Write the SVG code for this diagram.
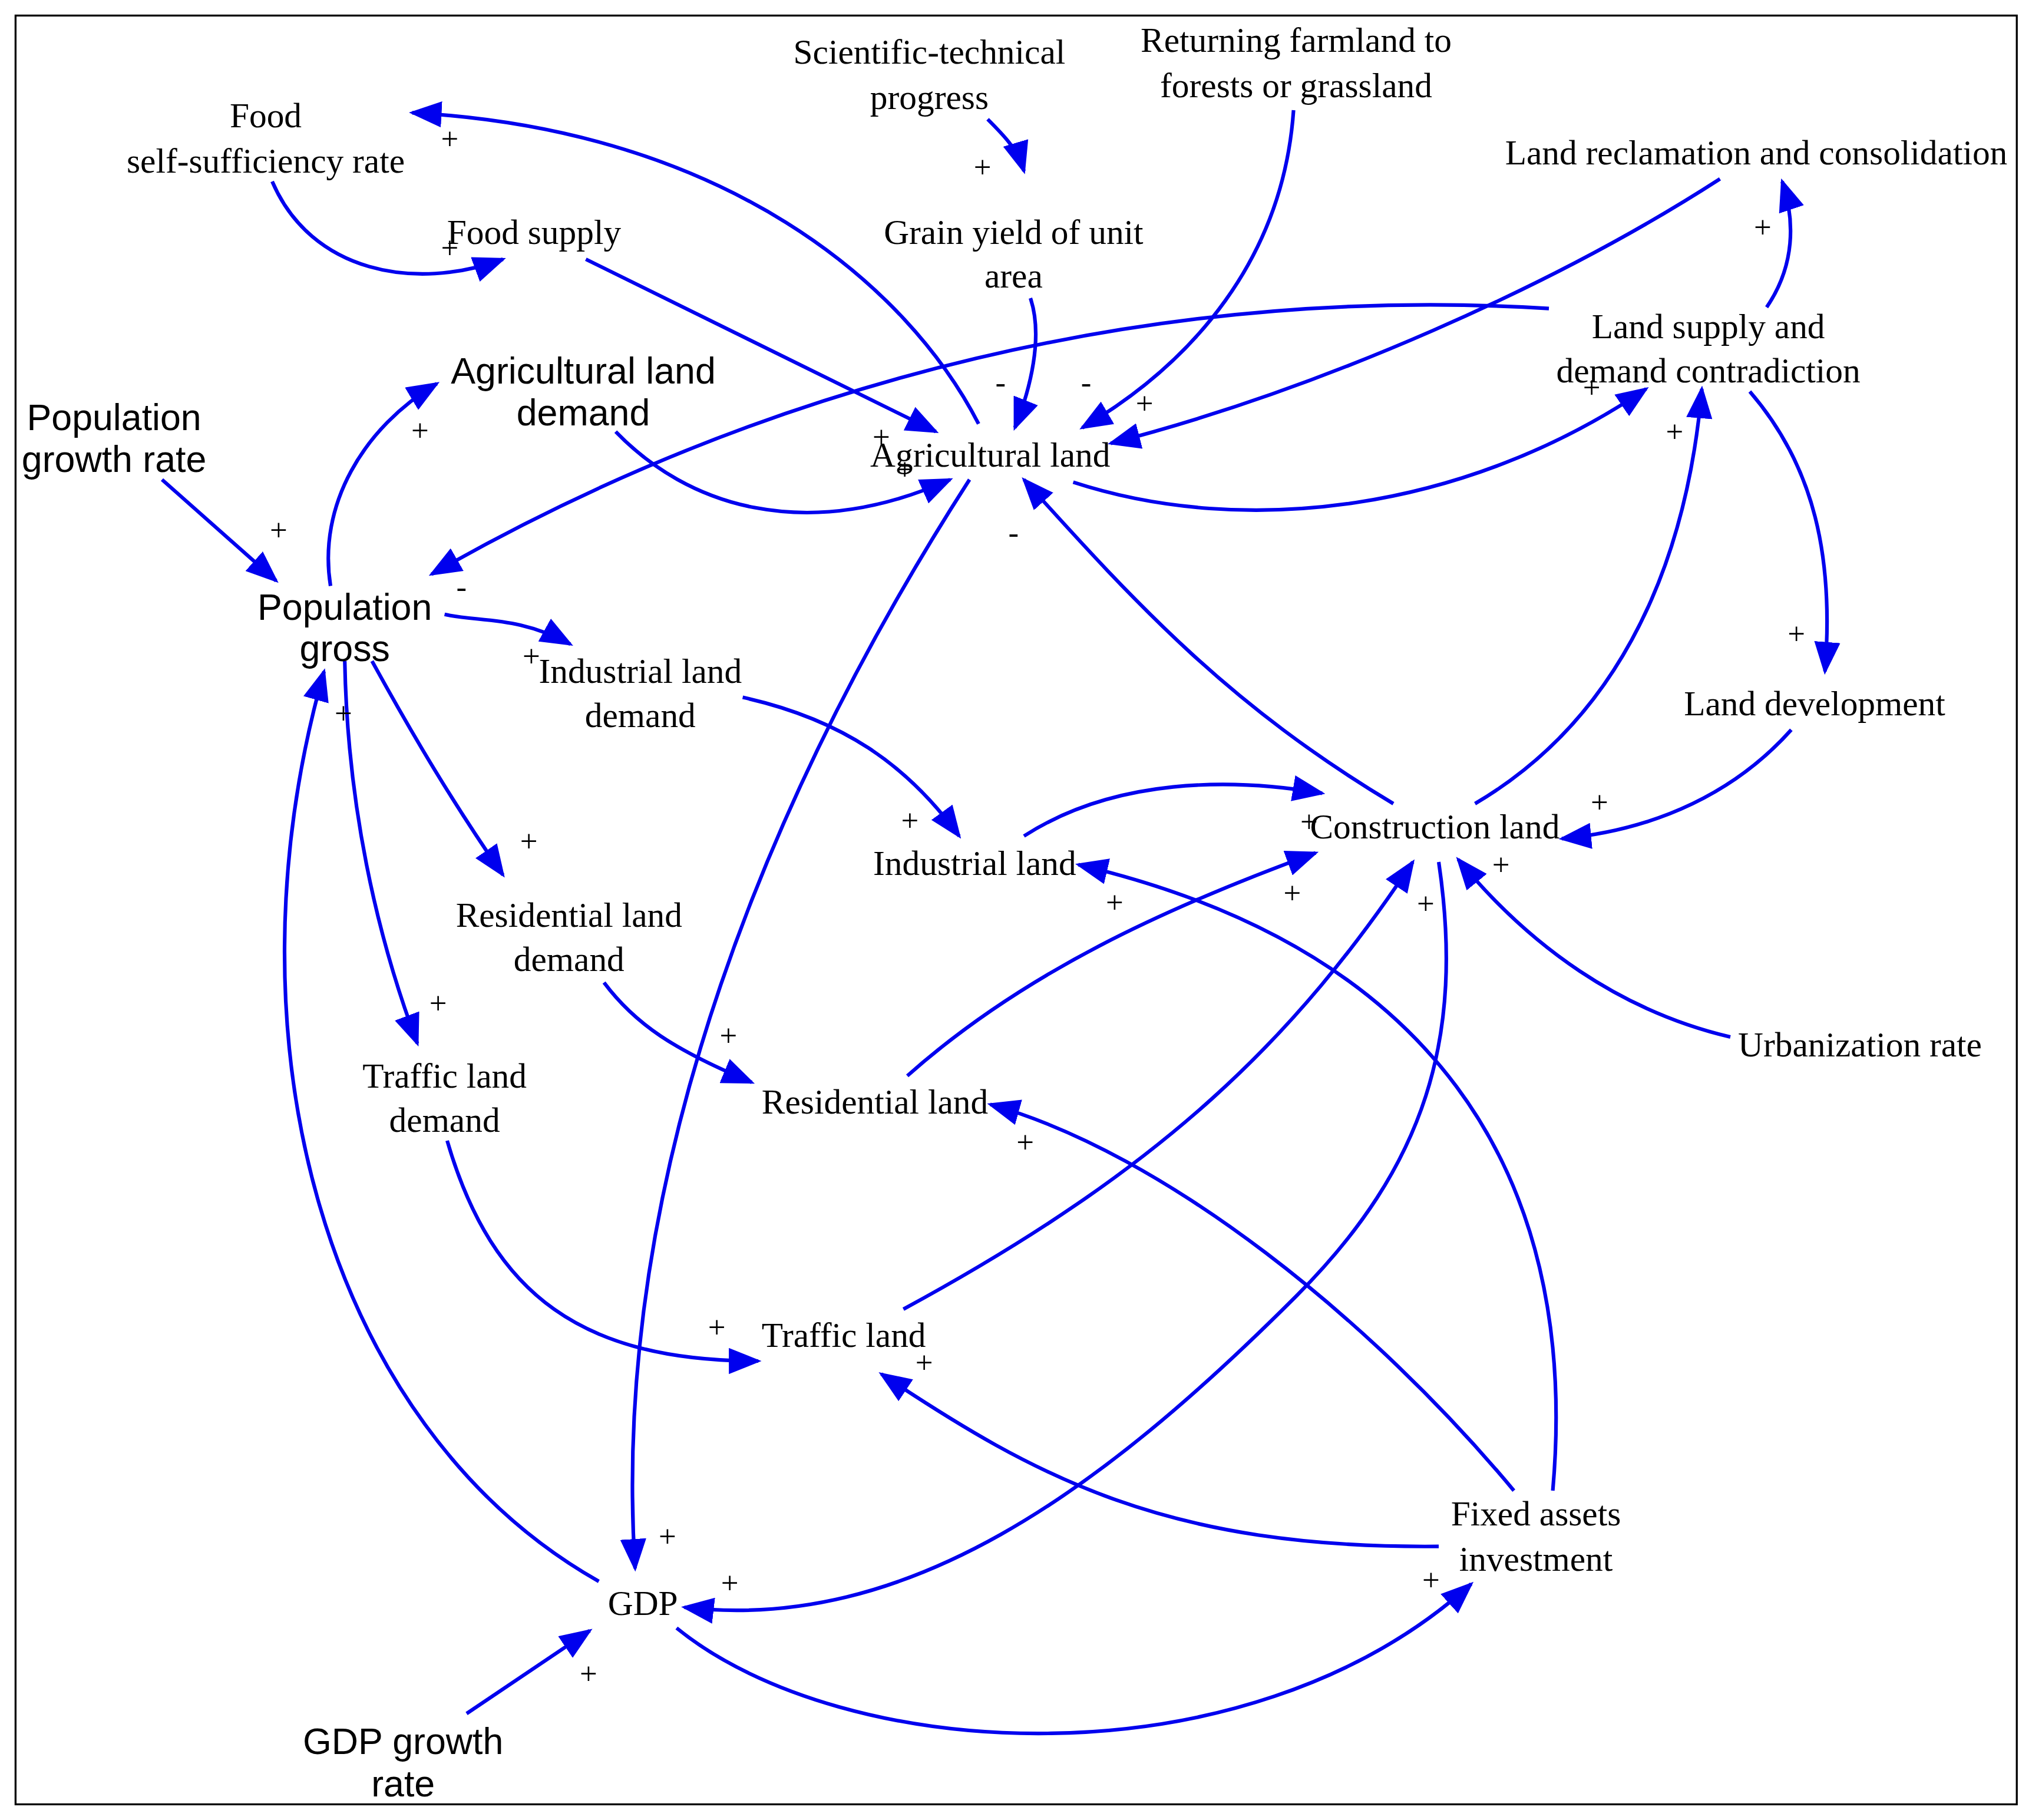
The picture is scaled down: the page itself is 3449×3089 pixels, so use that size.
<svg xmlns="http://www.w3.org/2000/svg" width="3449" height="3089" viewBox="0 0 3449 3089">
<defs>
<marker id="ah" viewBox="0 0 10 8" refX="9" refY="4" markerWidth="9" markerHeight="7.2" orient="auto" markerUnits="strokeWidth"><path d="M0,0 L10,4 L0,8 z" fill="#0000ee"/></marker>
<style>
.s{font-family:"Liberation Serif",serif;font-size:27px;fill:#000;text-anchor:middle}
.a{font-family:"Liberation Sans",sans-serif;font-size:28.5px;fill:#000;text-anchor:middle}
.p{font-family:"Liberation Serif",serif;font-size:24px;fill:#000;text-anchor:middle}
#edges path{fill:none;stroke:#0000ee;stroke-width:2.8;marker-end:url(#ah)}
</style>
</defs>
<rect width="3449" height="3089" fill="#fff"/>
<g transform="scale(2.2)">
<rect x="12" y="12" width="1544" height="1380" fill="none" stroke="#000" stroke-width="1.5"/>
<g id="edges">
<path d="M755,327 C700,220 560,100 318,87"/>
<path d="M210,140 C240,210 320,225 388,200"/>
<path d="M452,200 L722,333"/>
<path d="M762,92 C775,105 785,115 790,132"/>
<path d="M795,230 C805,260 795,300 783,330"/>
<path d="M998,85 C990,200 920,280 835,330"/>
<path d="M1327,138 C1200,220 1020,300 857,342"/>
<path d="M1363,237 C1385,205 1385,170 1375,140"/>
<path d="M1195,238 C900,220 600,290 333,443"/>
<path d="M475,333 C530,390 620,420 733,370"/>
<path d="M255,452 C245,390 280,330 337,296"/>
<path d="M125,370 L213,448"/>
<path d="M828,372 C960,415 1130,395 1270,300"/>
<path d="M748,370 C600,600 470,900 490,1210"/>
<path d="M1075,620 C950,545 880,470 790,370"/>
<path d="M1138,620 C1240,560 1300,450 1313,300"/>
<path d="M1350,302 C1400,360 1415,430 1408,518"/>
<path d="M1382,563 C1340,610 1280,640 1205,647"/>
<path d="M343,474 C370,480 400,475 440,497"/>
<path d="M573,538 C650,555 700,590 740,645"/>
<path d="M790,645 C860,600 950,600 1020,612"/>
<path d="M287,510 C320,570 350,620 388,675"/>
<path d="M266,510 C268,620 290,720 322,805"/>
<path d="M466,758 C490,790 520,810 580,835"/>
<path d="M700,830 C790,750 900,700 1015,658"/>
<path d="M345,880 C380,1000 450,1050 585,1050"/>
<path d="M697,1010 C900,900 1000,800 1090,665"/>
<path d="M1335,800 C1250,780 1180,730 1125,663"/>
<path d="M1110,665 C1130,800 1100,900 1000,1000 C850,1150 700,1260 528,1240"/>
<path d="M1198,1150 C1220,900 1100,730 832,667"/>
<path d="M1168,1150 C1060,1020 900,890 764,852"/>
<path d="M1110,1193 C900,1195 800,1140 680,1060"/>
<path d="M522,1256 C650,1360 960,1380 1135,1222"/>
<path d="M462,1220 C250,1100 170,800 250,518"/>
<path d="M360,1322 L455,1258"/>
</g>
<g id="polarities">
<text class="p" x="347" y="115">+</text><text class="p" x="347" y="199">+</text>
<text class="p" x="680" y="345">+</text><text class="p" x="698" y="370">+</text>
<text class="p" x="758" y="137">+</text><text class="p" x="772" y="303">-</text>
<text class="p" x="838" y="303">-</text><text class="p" x="883" y="319">+</text>
<text class="p" x="1360" y="183">+</text><text class="p" x="356" y="461">-</text>
<text class="p" x="324" y="340">+</text><text class="p" x="215" y="417">+</text>
<text class="p" x="1228" y="307">+</text><text class="p" x="515" y="1193">+</text>
<text class="p" x="782" y="419">-</text><text class="p" x="1292" y="341">+</text>
<text class="p" x="1386" y="497">+</text><text class="p" x="1234" y="627">+</text>
<text class="p" x="410" y="514">+</text><text class="p" x="702" y="641">+</text>
<text class="p" x="1010" y="642">+</text><text class="p" x="408" y="657">+</text>
<text class="p" x="265" y="558">+</text><text class="p" x="338" y="782">+</text>
<text class="p" x="562" y="807">+</text><text class="p" x="860" y="704">+</text>
<text class="p" x="553" y="1032">+</text><text class="p" x="1100" y="705">+</text>
<text class="p" x="1158" y="675">+</text><text class="p" x="563" y="1229">+</text>
<text class="p" x="997" y="697">+</text><text class="p" x="791" y="889">+</text>
<text class="p" x="713" y="1059">+</text><text class="p" x="1104" y="1227">+</text>
<text class="p" x="454" y="1299">+</text>
</g>
<g id="n-food-self"><text class="s" x="205" y="98">Food</text><text class="s" x="205" y="133">self-sufficiency rate</text></g>
<g id="n-scitech"><text class="s" x="717" y="49">Scientific-technical</text><text class="s" x="717" y="84">progress</text></g>
<g id="n-returning"><text class="s" x="1000" y="40">Returning farmland to</text><text class="s" x="1000" y="75">forests or grassland</text></g>
<g id="n-reclamation"><text class="s" x="1355" y="127">Land reclamation and consolidation</text></g>
<g id="n-food-supply"><text class="s" x="412" y="188">Food supply</text></g>
<g id="n-grain"><text class="s" x="782" y="188">Grain yield of unit</text><text class="s" x="782" y="222">area</text></g>
<g id="n-land-supply"><text class="s" x="1318" y="261">Land supply and</text><text class="s" x="1318" y="295">demand contradiction</text></g>
<g id="n-ag-demand"><text class="a" x="450" y="296">Agricultural land</text><text class="a" x="450" y="328">demand</text></g>
<g id="n-pop-rate"><text class="a" x="88" y="332">Population</text><text class="a" x="88" y="364">growth rate</text></g>
<g id="n-ag-land"><text class="s" x="764" y="360">Agricultural land</text></g>
<g id="n-pop-gross"><text class="a" x="266" y="478">Population</text><text class="a" x="266" y="510">gross</text></g>
<g id="n-ind-demand"><text class="s" x="494" y="527">Industrial land</text><text class="s" x="494" y="561">demand</text></g>
<g id="n-land-dev"><text class="s" x="1400" y="552">Land development</text></g>
<g id="n-construction"><text class="s" x="1107" y="647">Construction land</text></g>
<g id="n-industrial"><text class="s" x="752" y="675">Industrial land</text></g>
<g id="n-res-demand"><text class="s" x="439" y="715">Residential land</text><text class="s" x="439" y="749">demand</text></g>
<g id="n-urban"><text class="s" x="1435" y="815">Urbanization rate</text></g>
<g id="n-traffic-demand"><text class="s" x="343" y="839">Traffic land</text><text class="s" x="343" y="873">demand</text></g>
<g id="n-residential"><text class="s" x="675" y="859">Residential land</text></g>
<g id="n-traffic"><text class="s" x="651" y="1039">Traffic land</text></g>
<g id="n-fixed"><text class="s" x="1185" y="1177">Fixed assets</text><text class="s" x="1185" y="1212">investment</text></g>
<g id="n-gdp"><text class="s" x="496" y="1246">GDP</text></g>
<g id="n-gdp-rate"><text class="a" x="311" y="1353">GDP growth</text><text class="a" x="311" y="1386">rate</text></g>
</g>
</svg>
